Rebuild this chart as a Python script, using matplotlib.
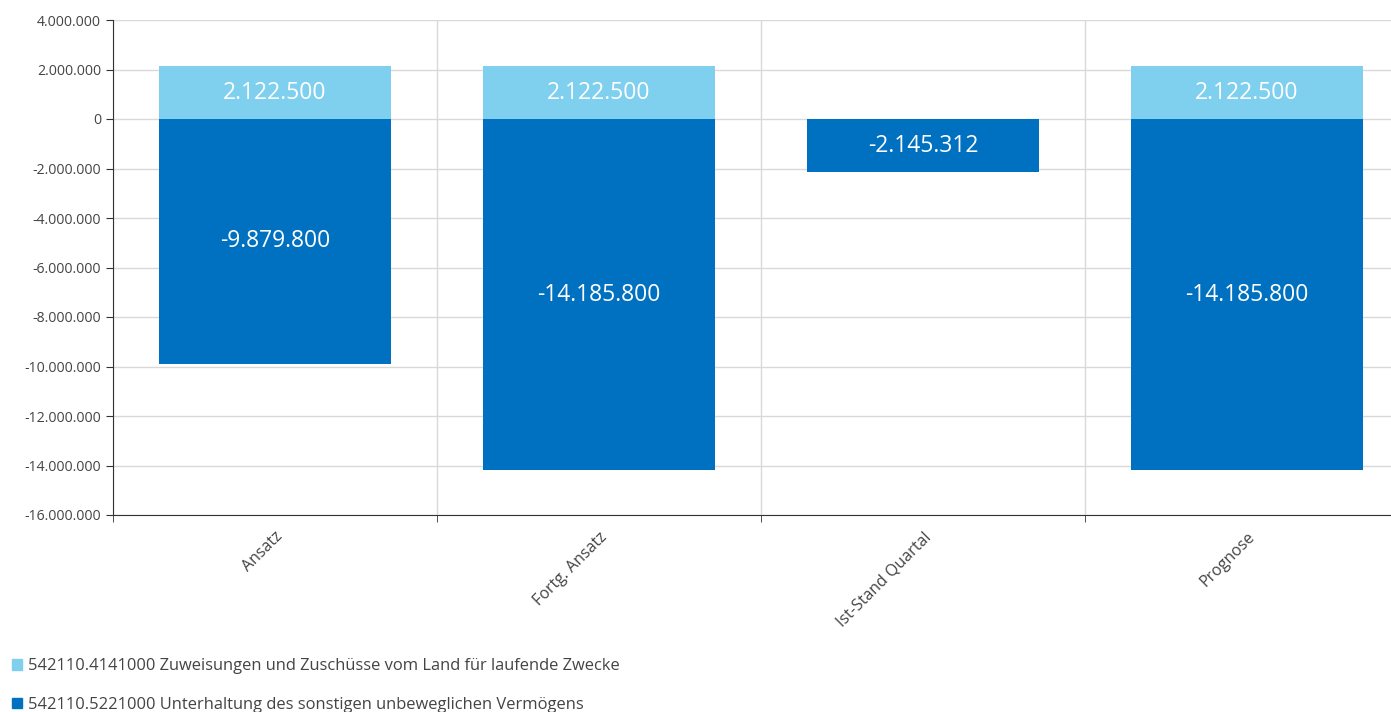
import matplotlib.pyplot as plt
from matplotlib.ticker import FuncFormatter, FixedLocator
from matplotlib.patches import Patch

plt.rcParams['font.family'] = ['Open Sans', 'DejaVu Sans']

categories = ["Ansatz", "Fortg. Ansatz", "Ist-Stand Quartal", "Prognose"]
zuweisungen = [2122500, 2122500, 0, 2122500]
unterhaltung = [-9879800, -14185800, -2145312, -14185800]
series_names = [
    "542110.4141000 Zuweisungen und Zuschüsse vom Land für laufende Zwecke",
    "542110.5221000 Unterhaltung des sonstigen unbeweglichen Vermögens",
]
light = "#7fd0ef"
dark = "#0070c0"


def de(v):
    return f"{v:,.0f}".replace(",", ".")


fig = plt.figure(figsize=(13.91, 7.12), dpi=100)
ax = fig.add_axes([113 / 1391, 1 - 515 / 712, 1 - 113 / 1391, 495 / 712])

x = list(range(len(categories)))
w = 0.716
ax.bar(x, zuweisungen, width=w, color=light, zorder=2)
ax.bar(x, unterhaltung, width=w, color=dark, zorder=2)

for i in x:
    if zuweisungen[i]:
        ax.text(i, zuweisungen[i] / 2, de(zuweisungen[i]), ha="center", va="center",
                color="white", fontsize=16.5, zorder=3)
    ax.text(i, unterhaltung[i] / 2, de(unterhaltung[i]), ha="center", va="center",
            color="white", fontsize=16.5, zorder=3)

ax.set_ylim(-16000000, 4000000)
ax.set_yticks(range(-16000000, 4000001, 2000000))
ax.yaxis.set_major_formatter(FuncFormatter(lambda v, p: de(v)))
ax.set_xlim(-0.5, -0.5 + (1391 - 113) / 324)

ax.set_xticks(x)
ax.set_xticklabels(categories, rotation=45, ha="right", rotation_mode="anchor",
                   fontsize=11.5, color="#444444")
ax.tick_params(axis="x", which="major", length=0, pad=10)
ax.xaxis.set_minor_locator(FixedLocator([-0.5, 0.5, 1.5, 2.5]))
ax.tick_params(axis="x", which="minor", length=5, color="#333333")
ax.tick_params(axis="y", length=5, color="#333333", labelsize=10.2, labelcolor="#444444")

ax.grid(axis="y", color="#d9d9d9", linewidth=1, zorder=0)
ax.grid(axis="x", which="minor", color="#d9d9d9", linewidth=1, zorder=0)
for s in ["top", "right"]:
    ax.spines[s].set_visible(False)
for s in ["left", "bottom"]:
    ax.spines[s].set_color("#333333")

handles = [Patch(color=light), Patch(color=dark)]
fig.legend(handles, series_names, loc="lower left", bbox_to_anchor=(-0.002, -0.022),
           frameon=False, fontsize=11.9, labelcolor="#444444", handlelength=0.6,
           handleheight=0.6, handletextpad=0.35, labelspacing=1.35)

fig.savefig("out.png", dpi=100)
